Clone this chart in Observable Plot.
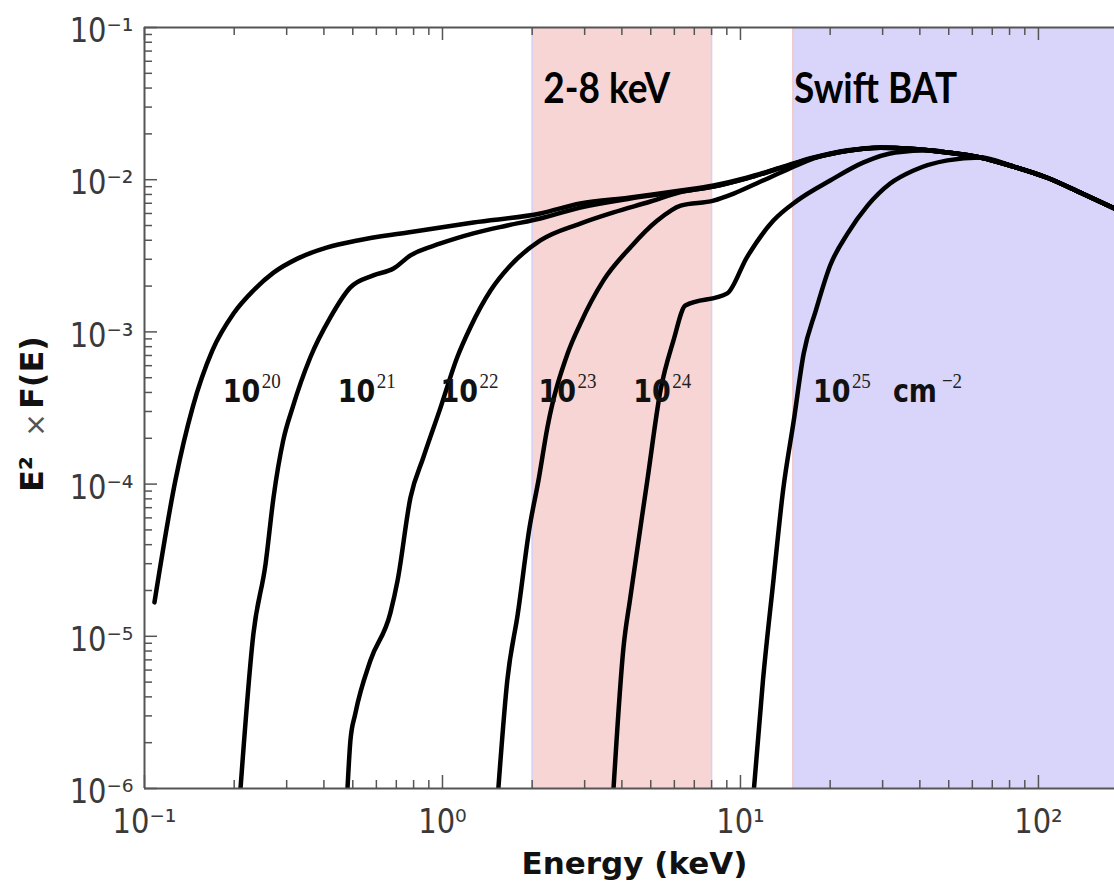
<!DOCTYPE html>
<html><head><meta charset="utf-8">
<script src="https://cdn.jsdelivr.net/npm/d3@7"></script>
<script src="https://cdn.jsdelivr.net/npm/@observablehq/plot@0.6"></script>
<style>html,body{margin:0;padding:0;background:#fff;}</style>
</head><body><div id="chart"></div>
<script>
// ---------- data ----------
// E^2 x F(E) spectra for column densities N_H = 10^20 ... 10^25 cm^-2
const energy20 = [0.108, 0.127, 0.145, 0.169, 0.199, 0.232, 0.271, 0.326, 0.411, 0.519, 0.764, 1.27, 2.13, 2.90, 4.27, 6.30, 8.12, 10.5, 13.6, 17.6, 22.9, 29.5, 37.2, 49.5, 63.8, 82.4, 107, 138, 180];
const flux20   = [1.67e-5, 1.06e-4, 3.18e-4, 7.55e-4, 1.32e-3, 1.87e-3, 2.45e-3, 3.03e-3, 3.59e-3, 3.99e-3, 4.50e-3, 5.24e-3, 6.0e-3, 6.98e-3, 7.64e-3, 8.49e-3, 9.16e-3, 1.03e-2, 1.20e-2, 1.40e-2, 1.56e-2, 1.63e-2, 1.60e-2, 1.51e-2, 1.40e-2, 1.22e-2, 1.03e-2, 8.24e-3, 6.47e-3];

const energy21 = [0.210, 0.232, 0.255, 0.271, 0.292, 0.314, 0.360, 0.421, 0.491, 0.586, 0.685, 0.781, 0.985, 1.27, 1.65, 2.13, 2.90, 4.27, 6.30, 8.12, 10.5, 13.6, 17.6, 22.9, 29.5, 37.2, 49.5, 63.8, 82.4, 107, 138, 180];
const flux21   = [1e-6, 1.04e-5, 3.01e-5, 8.17e-5, 1.93e-4, 3.18e-4, 6.79e-4, 1.25e-3, 1.96e-3, 2.35e-3, 2.61e-3, 3.18e-3, 3.81e-3, 4.44e-3, 5.0e-3, 5.56e-3, 6.56e-3, 7.52e-3, 8.36e-3, 9.0e-3, 1.02e-2, 1.19e-2, 1.39e-2, 1.55e-2, 1.62e-2, 1.60e-2, 1.51e-2, 1.40e-2, 1.22e-2, 1.03e-2, 8.24e-3, 6.47e-3];

const energy22 = [0.480, 0.491, 0.510, 0.573, 0.669, 0.707, 0.781, 0.863, 0.985, 1.12, 1.24, 1.45, 1.69, 2.13, 2.90, 3.75, 4.99, 6.30, 8.12, 10.5, 13.6, 17.6, 22.9, 29.5, 37.2, 49.5, 63.8, 82.4, 107, 138, 180];
const flux22   = [1e-6, 2.07e-6, 3.11e-6, 6.93e-6, 1.43e-5, 2.33e-5, 8.17e-5, 1.50e-4, 3.18e-4, 6.79e-4, 1.07e-3, 1.87e-3, 2.73e-3, 3.99e-3, 5.15e-3, 6.10e-3, 7.19e-3, 8.30e-3, 9.0e-3, 1.02e-2, 1.19e-2, 1.39e-2, 1.55e-2, 1.62e-2, 1.60e-2, 1.51e-2, 1.40e-2, 1.22e-2, 1.03e-2, 8.24e-3, 6.47e-3];

const energy23 = [1.54, 1.65, 1.79, 1.96, 2.10, 2.25, 2.63, 2.90, 3.47, 4.27, 5.26, 6.30, 8.12, 9.49, 11.9, 14.7, 17.6, 22.9, 29.5, 37.2, 49.5, 63.8, 82.4, 107, 138, 180];
const flux23   = [1e-6, 5.13e-6, 1.41e-5, 5.19e-5, 1.06e-4, 2.36e-4, 7.21e-4, 1.13e-3, 2.18e-3, 3.59e-3, 5.39e-3, 6.76e-3, 7.29e-3, 8.11e-3, 9.88e-3, 1.19e-2, 1.38e-2, 1.55e-2, 1.62e-2, 1.60e-2, 1.51e-2, 1.40e-2, 1.22e-2, 1.03e-2, 8.24e-3, 6.47e-3];

const energy24 = [3.75, 4.05, 4.27, 4.87, 5.39, 5.96, 6.53, 9.03, 10.5, 12.9, 15.5, 20.0, 25.9, 33.1, 43.4, 49.5, 63.8, 82.4, 107, 138, 180];
const flux24   = [1e-6, 8.43e-6, 1.80e-5, 1.06e-4, 4.12e-4, 8.79e-4, 1.49e-3, 1.79e-3, 3.08e-3, 5.39e-3, 7.29e-3, 9.88e-3, 1.30e-2, 1.51e-2, 1.56e-2, 1.51e-2, 1.40e-2, 1.22e-2, 1.03e-2, 8.24e-3, 6.47e-3];

const energy25 = [11.1, 11.9, 12.9, 13.9, 15.1, 16.3, 17.9, 20.0, 22.9, 26.7, 31.8, 38.1, 49.5, 63.8, 82.4, 107, 138, 180];
const flux25   = [1e-6, 5.13e-6, 2.33e-5, 9.08e-5, 2.62e-4, 7.21e-4, 1.38e-3, 2.73e-3, 4.44e-3, 6.76e-3, 9.44e-3, 1.15e-2, 1.34e-2, 1.40e-2, 1.22e-2, 1.03e-2, 8.24e-3, 6.47e-3];

// curve labels (N_H exponents) and their anchor positions
const nhExponents = ["20", "21", "22", "23", "24", "25"];
const labelEnergy = [0.183, 0.445, 0.985, 2.10, 4.37, 17.5];
const labelFlux   = [3.44e-4, 3.44e-4, 3.44e-4, 3.44e-4, 3.44e-4, 3.44e-4];

// energy bands
const bandNames  = ["2-8 keV", "Swift BAT"];
const bandStart  = [2, 15];
const bandEnd    = [8, 200];
const bandLabelEnergy = [3.56, 28.4];
const bandLabelFlux   = [3.2e-2, 3.2e-2];

// axes
const xDomain = [0.1, 180];
const yDomain = [1e-6, 1e-1];
const xTickValues = [0.1, 1, 10, 100];
const xTickLabels = ["10⁻¹", "10⁰", "10¹", "10²"];
const yTickValues = [1e-6, 1e-5, 1e-4, 1e-3, 1e-2, 1e-1];
const yTickLabels = ["10⁻⁶", "10⁻⁵", "10⁻⁴", "10⁻³", "10⁻²", "10⁻¹"];
const xMinorTicks = [2,3,4,5,6,7,8,9].flatMap(k => [0.1, 1, 10].map(d => k * d)).filter(v => v <= xDomain[1]);
const yMinorTicks = [2,3,4,5,6,7,8,9].flatMap(k => [1e-6, 1e-5, 1e-4, 1e-3, 1e-2].map(d => k * d));

// ---------- build ----------
const energies = [energy20, energy21, energy22, energy23, energy24, energy25];
const fluxes = [flux20, flux21, flux22, flux23, flux24, flux25];
const rows = nhExponents.flatMap((nh, s) => energies[s].map((e, i) => ({nh, energy: e, flux: fluxes[s][i]})));
const labels = nhExponents.map((nh, i) => ({nh, energy: labelEnergy[i], flux: labelFlux[i]}));
const bandLabels = bandNames.map((name, i) => ({name, energy: bandLabelEnergy[i], flux: bandLabelFlux[i]}));

const W = 1114, H = 884;
const M = {top: 27, right: 0, bottom: 96, left: 144};
const plotW = W - M.left - M.right, plotH = H - M.top - M.bottom;
const axisGray = "#555";

const chart = Plot.plot({
  width: W, height: H,
  marginTop: M.top, marginRight: M.right, marginBottom: M.bottom, marginLeft: M.left,
  style: {fontFamily: "DejaVu Sans", background: "white", overflow: "visible"},
  x: {type: "log", domain: xDomain, axis: null},
  y: {type: "log", domain: yDomain, axis: null},
  marks: [
    Plot.rect([0], {x1: () => bandStart[0], x2: () => bandEnd[0], fill: "#f7d5d5"}),
    Plot.rect([1], {x1: () => bandStart[1], x2: () => bandEnd[1], fill: "#d9d5fa"}),
    Plot.ruleX([bandStart[0], bandEnd[0]], {stroke: "#d6d0f4", strokeWidth: 1.5}),
    Plot.ruleX([bandStart[1]], {stroke: "#f0c6c6", strokeWidth: 1.5}),
    Plot.line(rows, {x: "energy", y: "flux", z: "nh", stroke: "black", strokeWidth: 4.5, curve: "monotone-x", strokeLinejoin: "round", clip: true}),
    // curve labels
    Plot.text(labels, {x: "energy", y: "flux", text: () => "10", textAnchor: "start", lineAnchor: "bottom",
      fontWeight: "bold", fontSize: 27, fill: "#111"}),
    Plot.text(labels, {x: "energy", y: "flux", text: "nh", textAnchor: "start", lineAnchor: "bottom",
      fontFamily: "Liberation Serif", fontSize: 19, fill: "#222", dx: 39, dy: -14}),
    Plot.text(labels.slice(5), {x: "energy", y: "flux", text: () => "cm", textAnchor: "start", lineAnchor: "bottom",
      fontWeight: "bold", fontSize: 27, fill: "#111", dx: 80}),
    Plot.text(labels.slice(5), {x: "energy", y: "flux", text: () => "−2", textAnchor: "start", lineAnchor: "bottom",
      fontFamily: "Liberation Serif", fontSize: 19, fill: "#222", dx: 129, dy: -14}),
    // band labels
    Plot.text(bandLabels, {x: "energy", y: "flux", text: "name", textAnchor: "middle", lineAnchor: "bottom",
      fontFamily: "Lato", fontWeight: "bold", fontSize: 37, fill: "black"}),
    // inward ticks
    Plot.tickY(yTickValues, {y: d => d, insetRight: plotW - 13, stroke: axisGray, strokeWidth: 1.5}),
    Plot.tickY(yMinorTicks, {y: d => d, insetRight: plotW - 8, stroke: axisGray, strokeWidth: 1.5}),
    Plot.tickX(xTickValues, {x: d => d, insetTop: plotH - 13, stroke: axisGray, strokeWidth: 1.5}),
    Plot.tickX(xMinorTicks, {x: d => d, insetTop: plotH - 8, stroke: axisGray, strokeWidth: 1.5}),
    Plot.tickX(xTickValues, {x: d => d, insetBottom: plotH - 13, stroke: axisGray, strokeWidth: 1.5}),
    Plot.tickX(xMinorTicks, {x: d => d, insetBottom: plotH - 8, stroke: axisGray, strokeWidth: 1.5}),
    // axis lines
    Plot.ruleX([xDomain[0]], {stroke: axisGray, strokeWidth: 2}),
    Plot.ruleY(yDomain, {stroke: axisGray, strokeWidth: 2}),
    // tick labels
    Plot.axisX(xTickValues, {anchor: "bottom", tickSize: 0, tickPadding: 21, label: null,
      tickFormat: d => xTickLabels[xTickValues.indexOf(d)], fontSize: 29, fill: "#3a3a3a"}),
    Plot.axisY(yTickValues, {anchor: "left", tickSize: 0, tickPadding: 11, label: null, dy: 4,
      tickFormat: d => yTickLabels[yTickValues.indexOf(d)], fontSize: 29, fill: "#3a3a3a"}),
    // axis titles
    Plot.text(["Energy (keV)"], {frameAnchor: "bottom", text: d => d, dx: 5, dy: 85, lineAnchor: "bottom",
      fontWeight: "bold", fontSize: 31, fill: "#111"}),
    Plot.text(["E²"], {frameAnchor: "left", text: d => d, rotate: -90, textAnchor: "start", dx: -112, dy: 84,
      fontWeight: "bold", fontSize: 32, fill: "#111"}),
    Plot.text(["×"], {frameAnchor: "left", text: d => d, rotate: -90, textAnchor: "middle", dx: -108, dy: 17,
      fontSize: 28, fill: "#555"}),
    Plot.text(["F(E)"], {frameAnchor: "left", text: d => d, rotate: -90, textAnchor: "start", dx: -112, dy: 1,
      fontWeight: "bold", fontSize: 32, fill: "#111"})
  ]
});

// the reference's lettering is slightly taller than its width: stretch upright texts vertically
d3.select(chart).selectAll("text").each(function () {
  const t = this.getAttribute("transform") || "";
  if (/rotate/.test(t) || this.textContent === "Energy (keV)") return;
  this.setAttribute("transform", (t + " scale(1,1.15)").trim());
});
document.getElementById("chart").appendChild(chart);
</script>
</body></html>
